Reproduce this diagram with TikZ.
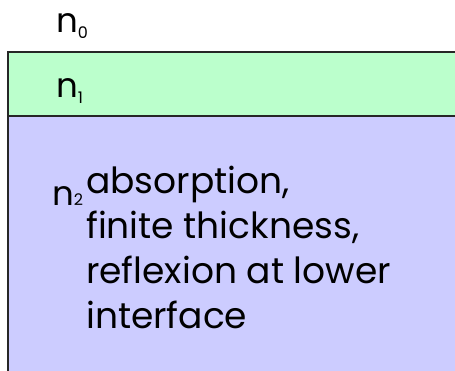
\documentclass[tikz,border=0pt]{standalone}
\usepackage{fontspec}
\setmainfont{Poppins}
\definecolor{filmgreen}{HTML}{BBFFCC}
\definecolor{substrateblue}{HTML}{CCCCFF}
\newcommand*{\idx}[2][0pt]{\raisebox{#1}{\fontsize{16}{16}\selectfont #2}}
\begin{document}
\begin{tikzpicture}
[
	x=1pt,y=-1pt,
	border/.style={draw=black!85,line width=2pt},
	lbl/.style={anchor=base west,inner sep=0pt,font=\fontsize{34}{45}\selectfont}
]
	\useasboundingbox (0,0) rectangle (455,370);

	% layers
	\fill[filmgreen] (8,52) rectangle (456,116);
	\fill[substrateblue] (8,116) rectangle (456,371);
	\draw[border] (456,52) -- (8,52) -- (8,371);
	\draw[border] (8,116) -- (456,116);

	% refractive indices
	\node[lbl] (n0) at (56,32) {n\idx[-6pt]{0}};
	\node[lbl] (n1) at (56,97) {n\idx[-6pt]{1}};
	\node[lbl] (n2) at (52,205) {n\idx[0pt]{2}};

	\node[lbl,align=left,anchor=north west,font=\fontsize{36}{45}\selectfont]
	  (prop) at (86,166)
	  {absorption,\\finite thickness,\\reflexion at lower\\interface};

\end{tikzpicture}
\end{document}
